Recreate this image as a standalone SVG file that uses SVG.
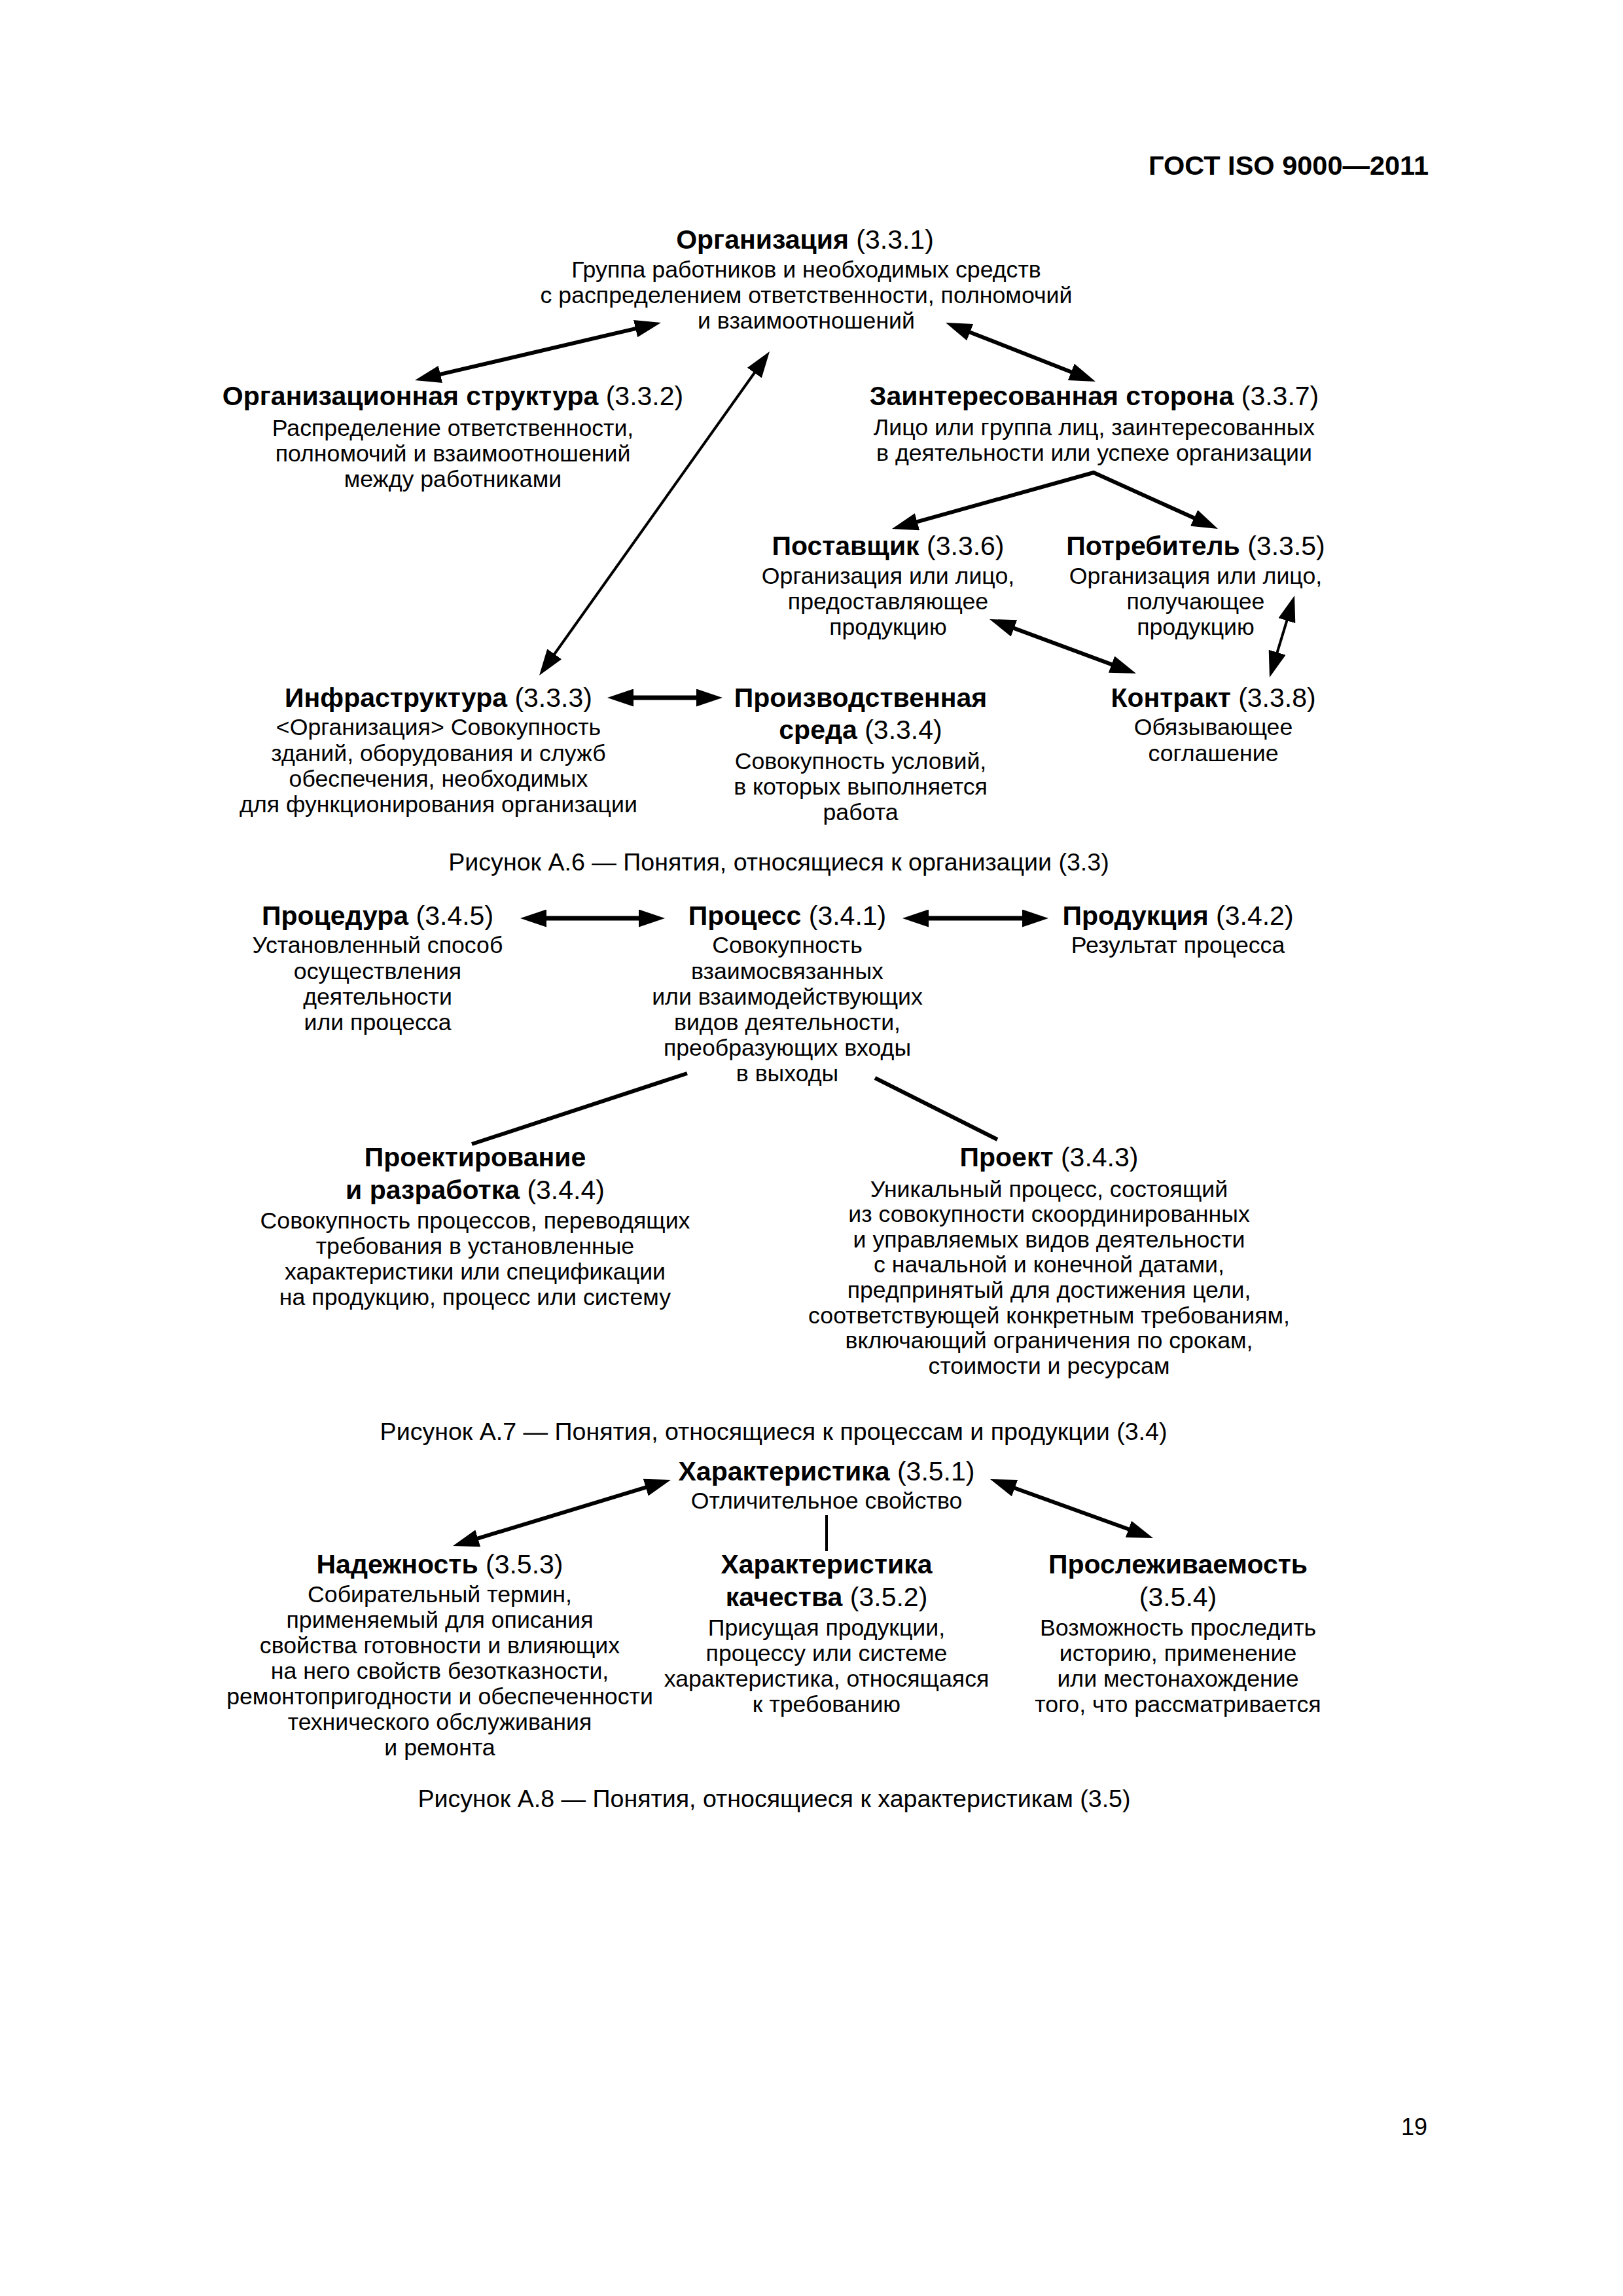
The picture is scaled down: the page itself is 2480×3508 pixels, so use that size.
<svg xmlns="http://www.w3.org/2000/svg" width="2480" height="3508" viewBox="0 0 2480 3508">
<defs>
<style>
text{font-family:"Liberation Sans",Arial,sans-serif;fill:#000;text-anchor:middle}
.h{font-size:41px}
.b{font-weight:bold}
.d{font-size:35.7px}
.cap{font-size:37.6px}
.hdr{font-size:41.5px;font-weight:bold;text-anchor:end}
.pg{font-size:36px;text-anchor:end}
.c{stroke:#000;fill:none;stroke-width:6}
.t{stroke-width:4}
.a{marker-start:url(#ah);marker-end:url(#ah)}
</style>
<marker id="ah" markerUnits="userSpaceOnUse" viewBox="0 0 40 27" markerWidth="40" markerHeight="27" refX="10" refY="13.5" orient="auto-start-reverse">
<path d="M0,0 L40,13.5 L0,27 z" fill="#000"/>
</marker>
</defs>
<rect width="2480" height="3508" fill="#fff"/>
<text class="hdr" x="2183" y="267">ГОСТ ISO 9000—2011</text>

<g id="connectors">
<line class="c a" x1="980.8" y1="499.8" x2="663.2" y2="574.2"/>
<line class="c a" x1="1472.9" y1="504" x2="1646.1" y2="572"/>
<line class="c t a" x1="1158.6" y1="561.5" x2="841.4" y2="1007.5"/>
<path class="c a" d="M1391.9,799.9 L1671,722 L1833.7,795.6"/>
<line class="c a" x1="1540.1" y1="956.4" x2="1707.9" y2="1018.6"/>
<line class="c t a" x1="1969.3" y1="938.7" x2="1948.7" y2="1006.3"/>
<line class="c a" x1="958" y1="1066" x2="1074" y2="1066" style="stroke-width:7"/>
<line class="c a" x1="825" y1="1403" x2="986" y2="1403" style="stroke-width:7"/>
<line class="c a" x1="1409" y1="1403" x2="1572" y2="1403" style="stroke-width:7"/>
<line class="c" x1="1050" y1="1640" x2="721" y2="1748"/>
<line class="c" x1="1337" y1="1647" x2="1524" y2="1741"/>
<line class="c a" x1="996.3" y1="2269.7" x2="720.7" y2="2353.3"/>
<line class="c a" x1="1541.2" y1="2270.2" x2="1733.8" y2="2339.8"/>
<line class="c t" x1="1263" y1="2315" x2="1263" y2="2370"/>
</g>

<g id="n331">
<text class="h" x="1230" y="380"><tspan class="b">Организация</tspan> (3.3.1)</text>
<text class="d" x="1232" y="424">Группа работников и необходимых средств</text>
<text class="d" x="1232" y="463">с распределением ответственности, полномочий</text>
<text class="d" x="1232" y="502">и взаимоотношений</text>
</g>
<g id="n332">
<text class="h" x="692" y="619"><tspan class="b">Организационная структура</tspan> (3.3.2)</text>
<text class="d" x="692" y="666">Распределение ответственности,</text>
<text class="d" x="692" y="705">полномочий и взаимоотношений</text>
<text class="d" x="692" y="744">между работниками</text>
</g>
<g id="n337">
<text class="h" x="1672" y="619"><tspan class="b">Заинтересованная сторона</tspan> (3.3.7)</text>
<text class="d" x="1672" y="665">Лицо или группа лиц, заинтересованных</text>
<text class="d" x="1672" y="704">в деятельности или успехе организации</text>
</g>
<g id="n336">
<text class="h" x="1357" y="848"><tspan class="b">Поставщик</tspan> (3.3.6)</text>
<text class="d" x="1357" y="892">Организация или лицо,</text>
<text class="d" x="1357" y="931">предоставляющее</text>
<text class="d" x="1357" y="970">продукцию</text>
</g>
<g id="n335">
<text class="h" x="1827" y="848"><tspan class="b">Потребитель</tspan> (3.3.5)</text>
<text class="d" x="1827" y="892">Организация или лицо,</text>
<text class="d" x="1827" y="931">получающее</text>
<text class="d" x="1827" y="970">продукцию</text>
</g>
<g id="n338">
<text class="h" x="1854" y="1080"><tspan class="b">Контракт</tspan> (3.3.8)</text>
<text class="d" x="1854" y="1123">Обязывающее</text>
<text class="d" x="1854" y="1163">соглашение</text>
</g>
<g id="n333">
<text class="h" x="670" y="1080"><tspan class="b">Инфраструктура</tspan> (3.3.3)</text>
<text class="d" x="670" y="1123">&lt;Организация&gt; Совокупность</text>
<text class="d" x="670" y="1163">зданий, оборудования и служб</text>
<text class="d" x="670" y="1202">обеспечения, необходимых</text>
<text class="d" x="670" y="1241">для функционирования организации</text>
</g>
<g id="n334">
<text class="h b" x="1315" y="1080">Производственная</text>
<text class="h" x="1315" y="1129"><tspan class="b">среда</tspan> (3.3.4)</text>
<text class="d" x="1315" y="1175">Совокупность условий,</text>
<text class="d" x="1315" y="1214">в которых выполняется</text>
<text class="d" x="1315" y="1253">работа</text>
</g>
<text class="cap" x="1190" y="1330">Рисунок А.6 — Понятия, относящиеся к организации (3.3)</text>

<g id="n345">
<text class="h" x="577" y="1413"><tspan class="b">Процедура</tspan> (3.4.5)</text>
<text class="d" x="577" y="1456">Установленный способ</text>
<text class="d" x="577" y="1496">осуществления</text>
<text class="d" x="577" y="1535">деятельности</text>
<text class="d" x="577" y="1574">или процесса</text>
</g>
<g id="n341">
<text class="h" x="1203" y="1413"><tspan class="b">Процесс</tspan> (3.4.1)</text>
<text class="d" x="1203" y="1456">Совокупность</text>
<text class="d" x="1203" y="1496">взаимосвязанных</text>
<text class="d" x="1203" y="1535">или взаимодействующих</text>
<text class="d" x="1203" y="1574">видов деятельности,</text>
<text class="d" x="1203" y="1613">преобразующих входы</text>
<text class="d" x="1203" y="1652">в выходы</text>
</g>
<g id="n342">
<text class="h" x="1800" y="1413"><tspan class="b">Продукция</tspan> (3.4.2)</text>
<text class="d" x="1800" y="1456">Результат процесса</text>
</g>
<g id="n344">
<text class="h b" x="726" y="1782">Проектирование</text>
<text class="h" x="726" y="1832"><tspan class="b">и разработка</tspan> (3.4.4)</text>
<text class="d" x="726" y="1877">Совокупность процессов, переводящих</text>
<text class="d" x="726" y="1916">требования в установленные</text>
<text class="d" x="726" y="1955">характеристики или спецификации</text>
<text class="d" x="726" y="1994">на продукцию, процесс или систему</text>
</g>
<g id="n343">
<text class="h" x="1603" y="1782"><tspan class="b">Проект</tspan> (3.4.3)</text>
<text class="d" x="1603" y="1829">Уникальный процесс, состоящий</text>
<text class="d" x="1603" y="1867">из совокупности скоординированных</text>
<text class="d" x="1603" y="1906">и управляемых видов деятельности</text>
<text class="d" x="1603" y="1944">с начальной и конечной датами,</text>
<text class="d" x="1603" y="1983">предпринятый для достижения цели,</text>
<text class="d" x="1603" y="2022">соответствующей конкретным требованиям,</text>
<text class="d" x="1603" y="2060">включающий ограничения по срокам,</text>
<text class="d" x="1603" y="2099">стоимости и ресурсам</text>
</g>
<text class="cap" x="1182" y="2200">Рисунок А.7 — Понятия, относящиеся к процессам и продукции (3.4)</text>

<g id="n351">
<text class="h" x="1263" y="2262"><tspan class="b">Характеристика</tspan> (3.5.1)</text>
<text class="d" x="1263" y="2305">Отличительное свойство</text>
</g>
<g id="n353">
<text class="h" x="672" y="2404"><tspan class="b">Надежность</tspan> (3.5.3)</text>
<text class="d" x="672" y="2448">Собирательный термин,</text>
<text class="d" x="672" y="2487">применяемый для описания</text>
<text class="d" x="672" y="2526">свойства готовности и влияющих</text>
<text class="d" x="672" y="2565">на него свойств безотказности,</text>
<text class="d" x="672" y="2604">ремонтопригодности и обеспеченности</text>
<text class="d" x="672" y="2643">технического обслуживания</text>
<text class="d" x="672" y="2682">и ремонта</text>
</g>
<g id="n352">
<text class="h b" x="1263" y="2404">Характеристика</text>
<text class="h" x="1263" y="2454"><tspan class="b">качества</tspan> (3.5.2)</text>
<text class="d" x="1263" y="2499">Присущая продукции,</text>
<text class="d" x="1263" y="2538">процессу или системе</text>
<text class="d" x="1263" y="2577">характеристика, относящаяся</text>
<text class="d" x="1263" y="2616">к требованию</text>
</g>
<g id="n354">
<text class="h b" x="1800" y="2404">Прослеживаемость</text>
<text class="h" x="1800" y="2454">(3.5.4)</text>
<text class="d" x="1800" y="2499">Возможность проследить</text>
<text class="d" x="1800" y="2538">историю, применение</text>
<text class="d" x="1800" y="2577">или местонахождение</text>
<text class="d" x="1800" y="2616">того, что рассматривается</text>
</g>
<text class="cap" x="1183" y="2761">Рисунок А.8 — Понятия, относящиеся к характеристикам (3.5)</text>

<text class="pg" x="2181" y="3262">19</text>
</svg>
